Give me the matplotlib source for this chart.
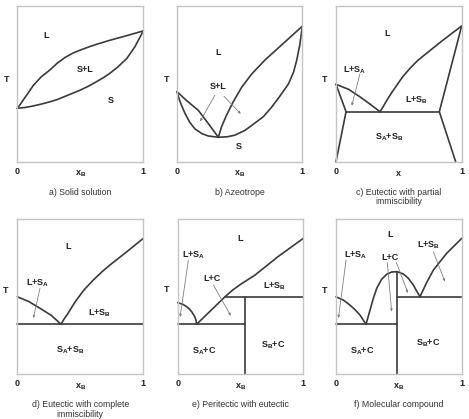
import matplotlib
matplotlib.use("Agg")
import matplotlib.pyplot as plt

plt.rcParams['font.family'] = ['Liberation Sans', 'DejaVu Sans']
plt.rcParams['mathtext.fontset'] = 'custom'
plt.rcParams['mathtext.rm'] = 'Liberation Sans:bold'
plt.rcParams['mathtext.bf'] = 'Liberation Sans:bold'
plt.rcParams['mathtext.it'] = 'Liberation Sans:bold'

# ---------------- data (x_B, T in relative units) ----------------
# a) Solid solution
a_liq_x = [0, 0.025, 0.05, 0.09, 0.127, 0.19, 0.26, 0.32, 0.38, 0.44, 0.5, 0.57, 0.63, 0.735, 0.87, 1]
a_liq_T = [0.343, 0.37, 0.40, 0.445, 0.49, 0.545, 0.59, 0.635, 0.67, 0.697, 0.717, 0.738, 0.754, 0.78, 0.81, 0.84]
a_sol_x = [0, 0.06, 0.127, 0.19, 0.26, 0.32, 0.38, 0.44, 0.5, 0.56, 0.62, 0.68, 0.735, 0.8, 0.87, 0.934, 1]
a_sol_T = [0.343, 0.348, 0.358, 0.37, 0.385, 0.40, 0.42, 0.44, 0.46, 0.483, 0.51, 0.538, 0.568, 0.61, 0.664, 0.739, 0.84]

# b) Azeotrope
b_liqL_x = [0, 0.08, 0.17, 0.25, 0.33]
b_liqL_T = [0.45, 0.39, 0.33, 0.245, 0.157]
b_solL_x = [0, 0.016, 0.032, 0.064, 0.1, 0.144, 0.2, 0.25, 0.33]
b_solL_T = [0.45, 0.405, 0.37, 0.31, 0.255, 0.21, 0.18, 0.165, 0.157]
b_liqR_x = [0.33, 0.356, 0.396, 0.449, 0.516, 0.596, 0.702, 0.835, 1]
b_liqR_T = [0.157, 0.225, 0.30, 0.385, 0.478, 0.563, 0.653, 0.75, 0.87]
b_solR_x = [0.33, 0.4, 0.46, 0.54, 0.62, 0.69, 0.755, 0.82, 0.89, 0.93, 0.955, 0.98, 1]
b_solR_T = [0.157, 0.16, 0.17, 0.2, 0.247, 0.29, 0.35, 0.42, 0.50, 0.575, 0.65, 0.75, 0.87]

# c) Eutectic with partial immiscibility
c_liqL_x = [0, 0.1, 0.19, 0.27, 0.35]
c_liqL_T = [0.497, 0.465, 0.417, 0.37, 0.321]
c_liqR_x = [0.35, 0.38, 0.406, 0.44, 0.483, 0.53, 0.589, 0.65, 0.72, 0.85, 1]
c_liqR_T = [0.321, 0.36, 0.396, 0.44, 0.49, 0.545, 0.60, 0.65, 0.696, 0.78, 0.872]
c_solvA_x = [0, 0.08, 0]
c_solvA_T = [0.497, 0.321, 0]
c_solvB_x = [1, 0.822, 0.952]
c_solvB_T = [0.872, 0.321, 0]
c_eut_x = [0.08, 0.822]
c_eut_T = [0.321, 0.321]

# d) Eutectic with complete immiscibility
d_liqL_x = [0, 0.09, 0.18, 0.27, 0.347]
d_liqL_T = [0.50, 0.47, 0.426, 0.38, 0.323]
d_liqR_x = [0.347, 0.37, 0.4, 0.43, 0.47, 0.53, 0.603, 0.67, 0.735, 0.868, 1]
d_liqR_T = [0.323, 0.355, 0.39, 0.43, 0.48, 0.545, 0.608, 0.66, 0.705, 0.79, 0.877]
d_eut_x = [0, 1]
d_eut_T = [0.323, 0.323]

# e) Peritectic with eutectic
e_liqA_x = [0, 0.04, 0.072, 0.095, 0.111, 0.126, 0.138, 0.146, 0.151]
e_liqA_T = [0.462, 0.452, 0.436, 0.42, 0.404, 0.385, 0.368, 0.347, 0.323]
e_liqC_x = [0.151, 0.376, 0.44, 0.5, 0.615, 0.8, 1]
e_liqC_T = [0.323, 0.50, 0.545, 0.58, 0.64, 0.76, 0.877]
e_eut_x = [0, 0.535]
e_eut_T = [0.323, 0.323]
e_per_x = [0.376, 1]
e_per_T = [0.50, 0.50]
e_C_x = [0.535, 0.535]
e_C_T = [0, 0.50]

# f) Molecular compound
f_liqA_x = [0, 0.06, 0.11, 0.15, 0.19, 0.239]
f_liqA_T = [0.50, 0.478, 0.447, 0.418, 0.383, 0.323]
f_dome_x = [0.239, 0.271, 0.297, 0.324, 0.363, 0.403, 0.443, 0.488, 0.536, 0.576, 0.615, 0.642, 0.668]
f_dome_T = [0.323, 0.415, 0.49, 0.555, 0.613, 0.645, 0.66, 0.662, 0.647, 0.619, 0.576, 0.537, 0.50]
f_liqB_x = [0.668, 0.72, 0.775, 0.88, 1]
f_liqB_T = [0.50, 0.59, 0.673, 0.78, 0.877]
f_eut1_x = [0, 0.488]
f_eut1_T = [0.323, 0.323]
f_eut2_x = [0.488, 1]
f_eut2_T = [0.50, 0.50]
f_C_x = [0.488, 0.488]
f_C_T = [0, 0.662]

captions = ["a) Solid solution", "b) Azeotrope",
            "c) Eutectic with partial\nimmiscibility",
            "d) Eutectic with complete\nimmiscibility",
            "e) Peritectic with eutectic", "f) Molecular compound"]
xlabels = [r"x$_\mathbf{B}$", r"x$_\mathbf{B}$", "x",
           r"x$_\mathbf{B}$", r"x$_\mathbf{B}$", r"x$_\mathbf{B}$"]

# ---------------- figure ----------------
W, H = 469, 419
fig = plt.figure(figsize=(W / 100, H / 100), dpi=100)

LINE = '#3a3a3a'
FRAME = '#c4c4c4'
ARROW = '#808080'

panels_px = [(17.3, 6, 143.3, 161.7), (177, 6, 302.3, 161.7), (336, 6, 461.7, 161.7),
             (17.3, 219.3, 143.3, 374.3), (177.7, 219.3, 303.3, 374.3), (336, 219.3, 461.7, 374.3)]

axes = []
for (x0, y0, x1, y1) in panels_px:
    ax = fig.add_axes([x0 / W, 1 - y1 / H, (x1 - x0) / W, (y1 - y0) / H])
    ax.set_xlim(0, 1)
    ax.set_ylim(0, 1)
    ax.set_xticks([])
    ax.set_yticks([])
    for s in ax.spines.values():
        s.set_color(FRAME)
        s.set_linewidth(1.0)
    axes.append(ax)


def curve(ax, x, y):
    ax.plot(x, y, color=LINE, lw=1.2, solid_capstyle='round', solid_joinstyle='round', clip_on=False)


def lab(ax, x, y, s, fs=6.5):
    ax.text(x, y, s, ha='center', va='center', fontsize=fs, fontweight='bold', color='#222222')


def arrow(ax, x0, y0, x1, y1):
    ax.annotate('', xy=(x1, y1), xytext=(x0, y0),
                arrowprops=dict(arrowstyle='-|>,head_length=0.15,head_width=0.06',
                                color=ARROW, lw=0.6, shrinkA=0, shrinkB=0))


SA = r"S$_\mathbf{A}$"
SB = r"S$_\mathbf{B}$"

# a
ax = axes[0]
curve(ax, a_liq_x, a_liq_T)
curve(ax, a_sol_x, a_sol_T)
lab(ax, 0.23, 0.81, "L")
lab(ax, 0.537, 0.593, "S+L")
lab(ax, 0.74, 0.396, "S")

# b
ax = axes[1]
curve(ax, b_liqL_x, b_liqL_T)
curve(ax, b_solL_x, b_solL_T)
curve(ax, b_liqR_x, b_liqR_T)
curve(ax, b_solR_x, b_solR_T)
lab(ax, 0.33, 0.70, "L")
lab(ax, 0.33, 0.486, "S+L")
lab(ax, 0.497, 0.096, "S")
arrow(ax, 0.303, 0.428, 0.183, 0.257)
arrow(ax, 0.375, 0.42, 0.51, 0.306)

# c
ax = axes[2]
curve(ax, c_liqL_x, c_liqL_T)
curve(ax, c_liqR_x, c_liqR_T)
curve(ax, c_solvA_x, c_solvA_T)
curve(ax, c_solvB_x, c_solvB_T)
curve(ax, c_eut_x, c_eut_T)
lab(ax, 0.41, 0.825, "L")
lab(ax, 0.15, 0.59, "L+" + SA)
lab(ax, 0.64, 0.396, "L+" + SB)
lab(ax, 0.42, 0.16, SA + "+" + SB)
arrow(ax, 0.19, 0.563, 0.125, 0.358)

# d
ax = axes[3]
curve(ax, d_liqL_x, d_liqL_T)
curve(ax, d_liqR_x, d_liqR_T)
curve(ax, d_eut_x, d_eut_T)
lab(ax, 0.405, 0.823, "L")
lab(ax, 0.16, 0.587, "L+" + SA)
lab(ax, 0.65, 0.393, "L+" + SB)
lab(ax, 0.42, 0.157, SA + "+" + SB)
arrow(ax, 0.18, 0.555, 0.127, 0.361)

# e
ax = axes[4]
curve(ax, e_liqA_x, e_liqA_T)
curve(ax, e_liqC_x, e_liqC_T)
curve(ax, e_eut_x, e_eut_T)
curve(ax, e_per_x, e_per_T)
curve(ax, e_C_x, e_C_T)
lab(ax, 0.496, 0.877, "L")
lab(ax, 0.13, 0.77, "L+" + SA)
lab(ax, 0.27, 0.615, "L+C")
lab(ax, 0.775, 0.57, "L+" + SB)
lab(ax, 0.21, 0.146, SA + "+C")
lab(ax, 0.76, 0.19, SB + "+C")
arrow(ax, 0.085, 0.737, 0.019, 0.368)
arrow(ax, 0.284, 0.576, 0.424, 0.376)

# f
ax = axes[5]
curve(ax, f_liqA_x, f_liqA_T)
curve(ax, f_dome_x, f_dome_T)
curve(ax, f_liqB_x, f_liqB_T)
curve(ax, f_eut1_x, f_eut1_T)
curve(ax, f_eut2_x, f_eut2_T)
curve(ax, f_C_x, f_C_T)
lab(ax, 0.43, 0.899, "L")
lab(ax, 0.155, 0.77, "L+" + SA)
lab(ax, 0.43, 0.752, "L+C")
lab(ax, 0.74, 0.834, "L+" + SB)
lab(ax, 0.21, 0.146, SA + "+C")
lab(ax, 0.735, 0.2, SB + "+C")
arrow(ax, 0.08, 0.737, 0.019, 0.361)
arrow(ax, 0.408, 0.72, 0.443, 0.403)
arrow(ax, 0.481, 0.72, 0.573, 0.523)
arrow(ax, 0.774, 0.791, 0.867, 0.597)

# axis texts: T, 0, 1, xB, captions
Tpos = [(6.7, 79), (166.7, 80), (325, 80), (6, 290), (166.7, 289.3), (325, 290)]
for i, ((x0, y0, x1, y1), ax) in enumerate(zip(panels_px, axes)):
    tx, ty = Tpos[i]
    fig.text(tx / W, 1 - ty / H, "T", ha='center', va='center', fontsize=6.5, fontweight='bold', color='#222222')
    ytk = y1 + 9.5
    fig.text(x0 / W, 1 - ytk / H, "0", ha='center', va='center', fontsize=6.5, fontweight='bold', color='#222222')
    fig.text(x1 / W, 1 - ytk / H, "1", ha='center', va='center', fontsize=6.5, fontweight='bold', color='#222222')
    xm = (x0 + x1) / 2
    fig.text(xm / W, 1 - (y1 + 12) / H, xlabels[i], ha='center', va='center', fontsize=6.5,
             fontweight='bold', color='#222222')
    fig.text(xm / W, 1 - (y1 + 26) / H, captions[i], ha='center', va='top', fontsize=6.3,
             color='#333333', linespacing=1.05)

fig.savefig("out.png", dpi=100)
